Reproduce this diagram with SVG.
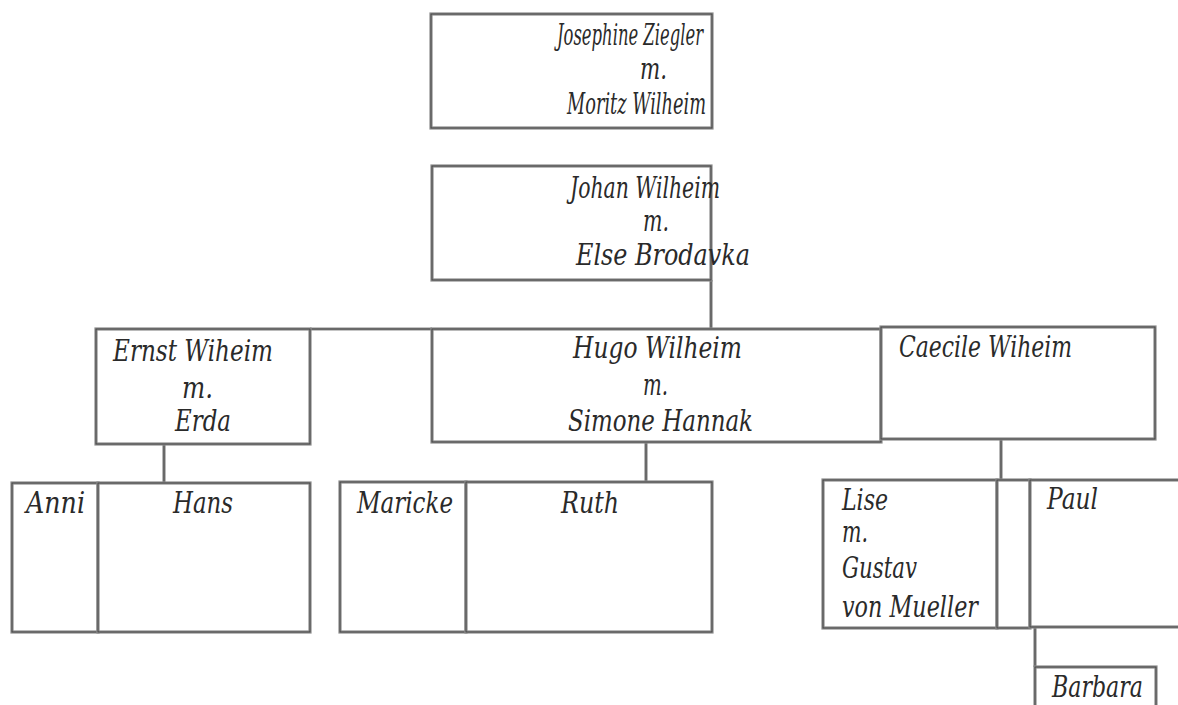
<svg xmlns="http://www.w3.org/2000/svg" width="1178" height="705" viewBox="0 0 1178 705">
<style>
.b{fill:#fff;stroke:#8c8c8c;stroke-width:3.2}
.bi{fill:none;stroke:#404040;stroke-width:0.9}
.c{fill:none;stroke:#8c8c8c;stroke-width:3.2}
.ci{fill:none;stroke:#404040;stroke-width:0.9}
text{font-family:"DejaVu Serif","Liberation Serif",serif;font-style:italic;font-size:29px;fill:#2a2a2a}
</style>
<rect width="1178" height="705" fill="#fff"/>
<g id="connectors">
<path class="c" d="M711 280V329M310 329H432M164 444V483M646 442V482M1001 439V480M1035 627V667"/>
<path class="ci" d="M711 280V329M310 329H432M164 444V483M646 442V482M1001 439V480M1035 627V667"/>
</g>
<g id="josephine">
<rect class="b" x="431" y="14" width="281" height="114"/><rect class="bi" x="431" y="14" width="281" height="114"/>
<text x="557" y="45" textLength="146" lengthAdjust="spacingAndGlyphs">Josephine Ziegler</text>
<text x="640" y="79" textLength="27" lengthAdjust="spacingAndGlyphs">m.</text>
<text x="567" y="114" textLength="139" lengthAdjust="spacingAndGlyphs">Moritz Wilheim</text>
</g>
<g id="johan">
<rect class="b" x="432" y="166" width="279" height="114"/><rect class="bi" x="432" y="166" width="279" height="114"/>
<text x="570" y="198" textLength="150" lengthAdjust="spacingAndGlyphs">Johan Wilheim</text>
<text x="643" y="231" textLength="26" lengthAdjust="spacingAndGlyphs">m.</text>
<text x="576" y="265" textLength="174" lengthAdjust="spacingAndGlyphs">Else Brodavka</text>
</g>
<g id="ernst">
<rect class="b" x="96" y="329" width="214" height="115"/><rect class="bi" x="96" y="329" width="214" height="115"/>
<text x="113" y="361" textLength="160" lengthAdjust="spacingAndGlyphs">Ernst Wiheim</text>
<text x="182" y="398" textLength="31" lengthAdjust="spacingAndGlyphs">m.</text>
<text x="175" y="431" textLength="56" lengthAdjust="spacingAndGlyphs">Erda</text>
</g>
<g id="hugo">
<rect class="b" x="432" y="329" width="449" height="113"/><rect class="bi" x="432" y="329" width="449" height="113"/>
<text x="573" y="358" textLength="169" lengthAdjust="spacingAndGlyphs">Hugo Wilheim</text>
<text x="643" y="395" textLength="25" lengthAdjust="spacingAndGlyphs">m.</text>
<text x="568" y="431" textLength="185" lengthAdjust="spacingAndGlyphs">Simone Hannak</text>
</g>
<g id="caecile">
<rect class="b" x="881" y="327" width="274" height="112"/><rect class="bi" x="881" y="327" width="274" height="112"/>
<text x="899" y="357" textLength="173" lengthAdjust="spacingAndGlyphs">Caecile Wiheim</text>
</g>
<g id="anni">
<rect class="b" x="12" y="483" width="86" height="149"/><rect class="bi" x="12" y="483" width="86" height="149"/>
<text x="26" y="513" textLength="59" lengthAdjust="spacingAndGlyphs">Anni</text>
</g>
<g id="hans">
<rect class="b" x="98" y="483" width="212" height="149"/><rect class="bi" x="98" y="483" width="212" height="149"/>
<text x="173" y="513" textLength="60" lengthAdjust="spacingAndGlyphs">Hans</text>
</g>
<g id="maricke">
<rect class="b" x="340" y="482" width="126" height="150"/><rect class="bi" x="340" y="482" width="126" height="150"/>
<text x="357" y="513" textLength="96" lengthAdjust="spacingAndGlyphs">Maricke</text>
</g>
<g id="ruth">
<rect class="b" x="466" y="482" width="246" height="150"/><rect class="bi" x="466" y="482" width="246" height="150"/>
<text x="561" y="513" textLength="58" lengthAdjust="spacingAndGlyphs">Ruth</text>
</g>
<g id="lise">
<rect class="b" x="823" y="480" width="174" height="148"/><rect class="bi" x="823" y="480" width="174" height="148"/>
<text x="842" y="510" textLength="46" lengthAdjust="spacingAndGlyphs">Lise</text>
<text x="842" y="542" textLength="26" lengthAdjust="spacingAndGlyphs">m.</text>
<text x="842" y="578" textLength="75" lengthAdjust="spacingAndGlyphs">Gustav</text>
<text x="842" y="617" textLength="136" lengthAdjust="spacingAndGlyphs">von Mueller</text>
</g>
<g id="spacer">
<rect class="b" x="997" y="480" width="33" height="148"/><rect class="bi" x="997" y="480" width="33" height="148"/>
</g>
<g id="paul">
<rect class="b" x="1030" y="480" width="160" height="147"/><rect class="bi" x="1030" y="480" width="160" height="147"/>
<text x="1047" y="509" textLength="51" lengthAdjust="spacingAndGlyphs">Paul</text>
</g>
<g id="barbara">
<rect class="b" x="1035" y="667" width="121" height="50"/><rect class="bi" x="1035" y="667" width="121" height="50"/>
<text x="1052" y="697" textLength="91" lengthAdjust="spacingAndGlyphs">Barbara</text>
</g>
</svg>
